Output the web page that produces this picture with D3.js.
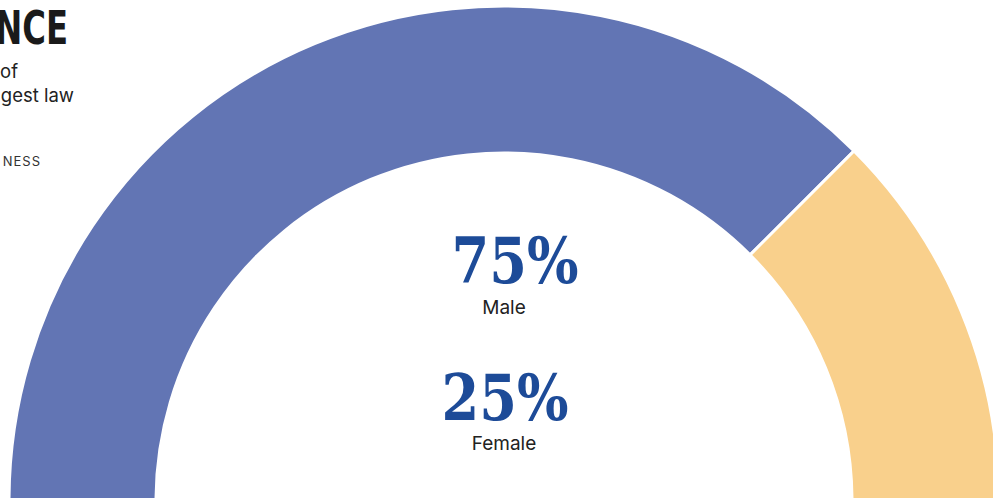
<!DOCTYPE html>
<html>
<head>
<meta charset="utf-8">
<script src="https://cdn.jsdelivr.net/npm/d3@7"></script>
<style>
  body { margin: 0; background: #fff; overflow: hidden; }
</style>
</head>
<body>
<script>
const svg_width = 993;
const svg_height = 498;

// data
const categories = ['Male', 'Female'];
const values = [75, 25];
const colors = ['#6275b4', '#f9d08c'];
const pct_labels = ['75%', '25%'];

const cx = 504, cy = 501;
const outer_r = 495, inner_r = 348;

const svg = d3.select('body')
    .append('svg')
    .attr('width', svg_width)
    .attr('height', svg_height);

svg.append('rect')
    .attr('width', svg_width)
    .attr('height', svg_height)
    .attr('fill', 'white');

const pie = d3.pie()
    .sort(null)
    .startAngle(-Math.PI / 2)
    .endAngle(Math.PI / 2)
    .value(d => d);

const arc = d3.arc()
    .innerRadius(inner_r)
    .outerRadius(outer_r);

const arc_g = svg.append('g')
    .attr('transform', `translate(${cx}, ${cy})`);

arc_g.selectAll('path')
    .data(pie(values))
    .enter()
    .append('path')
    .attr('d', arc)
    .attr('fill', (d, i) => colors[i])
    .attr('stroke', 'white')
    .attr('stroke-width', 3);

// title block, cut off on the left
svg.append('text')
    .attr('transform', 'translate(68, 44) scale(0.78, 1)')
    .attr('text-anchor', 'end')
    .attr('font-family', 'DejaVu Sans Condensed, DejaVu Sans, sans-serif')
    .attr('font-weight', 'bold')
    .attr('font-size', 46)
    .attr('fill', '#1a1a1a')
    .text('GENDER BALANCE');

const sub_lines = [['of', 18, 78], ['gest law', 74, 102]];
svg.selectAll('.sub')
    .data(sub_lines)
    .enter()
    .append('text')
    .attr('class', 'sub')
    .attr('x', d => d[1])
    .attr('y', d => d[2])
    .attr('text-anchor', 'end')
    .attr('font-family', 'Inter, Roboto, sans-serif')
    .attr('font-size', 18.5)
    .attr('fill', '#222')
    .text(d => d[0]);

svg.append('text')
    .attr('x', 41)
    .attr('y', 166)
    .attr('text-anchor', 'end')
    .attr('font-family', 'Inter, Roboto, sans-serif')
    .attr('font-size', 13)
    .attr('letter-spacing', 1)
    .attr('fill', '#333')
    .text('NESS');

// centre labels
const label_pos = [{x: 515, y: 283, ly: 314}, {x: 505, y: 420, ly: 450}];
const label_g = svg.selectAll('.label_g')
    .data(categories)
    .enter()
    .append('g')
    .attr('class', 'label_g');

label_g.append('text')
    .attr('x', (d, i) => label_pos[i].x)
    .attr('y', (d, i) => label_pos[i].y)
    .attr('text-anchor', 'middle')
    .attr('font-family', 'DejaVu Serif, Liberation Serif, serif')
    .attr('font-weight', 'bold')
    .attr('font-size', 64)
    .attr('fill', '#1d4b98')
    .attr('textLength', 127)
    .attr('lengthAdjust', 'spacingAndGlyphs')
    .text((d, i) => pct_labels[i]);

label_g.append('text')
    .attr('x', 504)
    .attr('y', (d, i) => label_pos[i].ly)
    .attr('text-anchor', 'middle')
    .attr('font-family', 'Inter, Roboto, sans-serif')
    .attr('font-size', 19)
    .attr('fill', '#222')
    .text(d => d);
</script>
</body>
</html>
